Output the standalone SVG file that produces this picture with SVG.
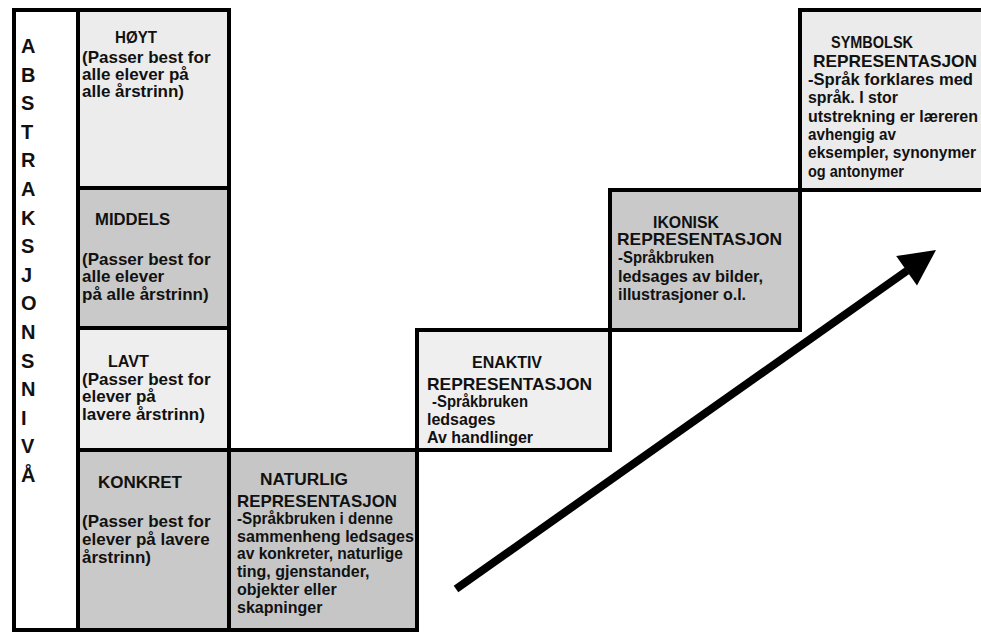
<svg xmlns="http://www.w3.org/2000/svg" width="981" height="632" viewBox="0 0 981 632">
<style>
.b{stroke:#000;stroke-width:4}
.lt{fill:#ececec}
.dk{fill:#c9c9c9}
text{font-family:"Liberation Sans",Arial,sans-serif;font-weight:bold;font-size:17px;fill:#111}
.s{font-size:16px}
.h{font-size:16px}
.v{font-size:20px}
</style>
<rect width="981" height="632" fill="#fff"/>
<g id="axis">
<rect class="b" x="14" y="10" width="64" height="620" fill="#fff"/>
<text class="v" x="21" y="53">A</text>
<text class="v" x="21" y="81.6">B</text>
<text class="v" x="21" y="110.2">S</text>
<text class="v" x="21" y="138.8">T</text>
<text class="v" x="21" y="167.4">R</text>
<text class="v" x="21" y="196">A</text>
<text class="v" x="21" y="224.6">K</text>
<text class="v" x="21" y="253.2">S</text>
<text class="v" x="21" y="281.8">J</text>
<text class="v" x="21" y="310.4">O</text>
<text class="v" x="21" y="339">N</text>
<text class="v" x="21" y="367.6">S</text>
<text class="v" x="21" y="396.2">N</text>
<text class="v" x="21" y="424.8">I</text>
<text class="v" x="21" y="453.4">V</text>
<text class="v" x="21" y="482">Å</text>
</g>
<g id="hoyt">
<rect class="b lt" x="78" y="10" width="151" height="178"/>
<text class="h" x="115" y="43" textLength="42" lengthAdjust="spacingAndGlyphs">HØYT</text>
<text x="82" y="63">(Passer best for</text>
<text x="82" y="80">alle elever på</text>
<text x="82" y="97">alle årstrinn)</text>
</g>
<g id="middels">
<rect class="b dk" x="78" y="188" width="151" height="140"/>
<text class="h" x="95" y="225" textLength="75" lengthAdjust="spacingAndGlyphs">MIDDELS</text>
<text x="82" y="265">(Passer best for</text>
<text x="82" y="282">alle elever</text>
<text x="82" y="300">på alle årstrinn)</text>
</g>
<g id="lavt">
<rect class="b" x="78" y="328" width="151" height="122" fill="#eeeeee"/>
<text class="h" x="108" y="367" textLength="41" lengthAdjust="spacingAndGlyphs">LAVT</text>
<text x="82" y="385">(Passer best for</text>
<text x="82" y="402">elever på</text>
<text x="82" y="420">lavere årstrinn)</text>
</g>
<g id="konkret">
<rect class="b dk" x="78" y="450" width="151" height="180"/>
<text class="h" x="98" y="488" textLength="84" lengthAdjust="spacingAndGlyphs">KONKRET</text>
<text x="82" y="527">(Passer best for</text>
<text x="82" y="545">elever på lavere</text>
<text x="82" y="563">årstrinn)</text>
</g>
<g id="naturlig">
<rect class="b" x="229" y="450" width="188" height="180" fill="#c6c6c6"/>
<text class="h" x="260" y="485" textLength="88" lengthAdjust="spacingAndGlyphs">NATURLIG</text>
<text x="237" y="507" textLength="160" lengthAdjust="spacingAndGlyphs">REPRESENTASJON</text>
<text class="s" x="237" y="524" textLength="156" lengthAdjust="spacingAndGlyphs">-Språkbruken i denne</text>
<text class="s" x="237" y="542" textLength="177" lengthAdjust="spacingAndGlyphs">sammenheng ledsages</text>
<text class="s" x="237" y="559" textLength="166" lengthAdjust="spacingAndGlyphs">av konkreter, naturlige</text>
<text class="s" x="237" y="577">ting, gjenstander,</text>
<text class="s" x="237" y="595">objekter eller</text>
<text class="s" x="237" y="613">skapninger</text>
</g>
<g id="enaktiv">
<rect class="b" x="417" y="330" width="193" height="120" fill="#efefef"/>
<text class="h" x="472" y="368" textLength="70" lengthAdjust="spacingAndGlyphs">ENAKTIV</text>
<text x="427" y="390" textLength="165" lengthAdjust="spacingAndGlyphs">REPRESENTASJON</text>
<text class="s" x="432" y="407" textLength="96" lengthAdjust="spacingAndGlyphs">-Språkbruken</text>
<text class="s" x="427" y="425">ledsages</text>
<text class="s" x="427" y="443">Av handlinger</text>
</g>
<g id="ikonisk">
<rect class="b dk" x="610" y="190" width="190" height="140"/>
<text class="h" x="653" y="228" textLength="66" lengthAdjust="spacingAndGlyphs">IKONISK</text>
<text x="617" y="245" textLength="165" lengthAdjust="spacingAndGlyphs">REPRESENTASJON</text>
<text class="s" x="618" y="263" textLength="96" lengthAdjust="spacingAndGlyphs">-Språkbruken</text>
<text class="s" x="618" y="282" textLength="145" lengthAdjust="spacingAndGlyphs">ledsages av bilder,</text>
<text class="s" x="618" y="300">illustrasjoner o.l.</text>
</g>
<g id="symbolsk">
<rect class="b" x="800" y="10" width="200" height="180" fill="#ebebeb"/>
<text class="h" x="831" y="48" textLength="82" lengthAdjust="spacingAndGlyphs">SYMBOLSK</text>
<text x="813" y="67" textLength="164" lengthAdjust="spacingAndGlyphs">REPRESENTASJON</text>
<text class="s" x="808" y="85" textLength="165" lengthAdjust="spacingAndGlyphs">-Språk forklares med</text>
<text class="s" x="808" y="103" textLength="90" lengthAdjust="spacingAndGlyphs">språk. I  stor</text>
<text class="s" x="808" y="122" textLength="170" lengthAdjust="spacingAndGlyphs">utstrekning  er læreren</text>
<text class="s" x="808" y="140" textLength="88" lengthAdjust="spacingAndGlyphs">avhengig av</text>
<text class="s" x="808" y="158" textLength="168" lengthAdjust="spacingAndGlyphs">eksempler, synonymer</text>
<text class="s" x="808" y="177" textLength="96" lengthAdjust="spacingAndGlyphs">og antonymer</text>
</g>
<g id="connectors">
<line x1="456" y1="589" x2="907" y2="270.8" stroke="#000" stroke-width="8"/>
<polygon points="936,250 917,285.5 896.2,256.1" fill="#000"/>
</g>
</svg>
